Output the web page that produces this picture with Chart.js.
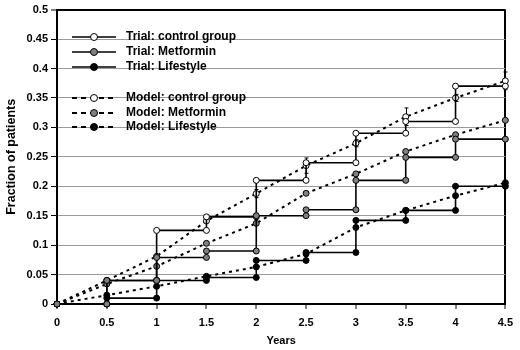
<!DOCTYPE html>
<html>
<head>
<meta charset="utf-8">
<script src="https://cdn.jsdelivr.net/npm/chart.js@4.4.1/dist/chart.umd.min.js"></script>
<style>
  html, body { margin: 0; padding: 0; background: #fff; }
  #wrap { width: 520px; height: 350px; }
</style>
</head>
<body>
<div id="wrap"><canvas id="chart" width="520" height="350"></canvas></div>
<script>
'use strict';

const years = [0, 0.5, 1, 1.5, 2, 2.5, 3, 3.5, 4, 4.5];

const trialControl   = [0, 0.04, 0.125, 0.148, 0.21, 0.24, 0.29, 0.31, 0.37, 0.37];
const trialMetformin = [0, 0.04, 0.079, 0.09, 0.15, 0.16, 0.21, 0.249, 0.28, 0.28];
const trialLifestyle = [0, 0.01, 0.04, 0.045, 0.074, 0.0875, 0.142, 0.159, 0.2, 0.2];

const modelControl   = [0, 0.04, 0.081, 0.141, 0.1875, 0.235, 0.273, 0.318, 0.35, 0.379];
const modelMetformin = [0, 0.034, 0.064, 0.103, 0.137, 0.188, 0.221, 0.259, 0.2875, 0.312];
const modelLifestyle = [0, 0.015, 0.03, 0.047, 0.063, 0.085, 0.13, 0.159, 0.184, 0.206];

// half-width of the whiskers on the control model points
const controlErr = [0, 0, 0, 0, 0.007, 0.013, 0.006, 0.015, 0.006, 0.015];

const seriesLabels = [
  'Trial: control group', 'Trial: Metformin', 'Trial: Lifestyle',
  'Model: control group', 'Model: Metformin', 'Model: Lifestyle'
];

const FONT = "'Liberation Sans', Arial, sans-serif";
const fills = ['#ffffff', '#808080', '#000000'];

function stepPoints(vals) {
  const pts = [{ x: years[0], y: vals[0] }];
  for (let i = 1; i < years.length; i++) {
    pts.push({ x: years[i], y: vals[i - 1] });
    if (vals[i] !== vals[i - 1]) pts.push({ x: years[i], y: vals[i] });
  }
  return pts;
}

function curvePoints(vals) {
  return years.map((x, i) => ({ x, y: vals[i] }));
}

function makeSet(label, data, fill, dashed, order) {
  return {
    label,
    data,
    order,
    borderColor: '#000',
    borderWidth: dashed ? 2 : 1.6,
    borderDash: dashed ? [3, 4] : [],
    pointRadius: 3,
    pointBorderWidth: 1,
    pointBorderColor: '#000',
    pointBackgroundColor: fill,
    tension: 0,
    clip: false,
    fill: false
  };
}

const datasets = [
  makeSet(seriesLabels[0], stepPoints(trialControl), fills[0], false, 3),
  makeSet(seriesLabels[1], stepPoints(trialMetformin), fills[1], false, 1),
  makeSet(seriesLabels[2], stepPoints(trialLifestyle), fills[2], false, 2),
  makeSet(seriesLabels[3], curvePoints(modelControl), fills[0], true, 6),
  makeSet(seriesLabels[4], curvePoints(modelMetformin), fills[1], true, 4),
  makeSet(seriesLabels[5], curvePoints(modelLifestyle), fills[2], true, 5)
];

const whiskers = {
  id: 'whiskers',
  beforeDatasetsDraw(chart) {
    const { ctx, scales: { x, y } } = chart;
    ctx.save();
    ctx.strokeStyle = '#000';
    ctx.lineWidth = 1;
    years.forEach((yr, i) => {
      const e = controlErr[i];
      if (!e) return;
      const px = Math.round(x.getPixelForValue(yr)) + 0.5;
      const top = y.getPixelForValue(modelControl[i] + e);
      const bot = y.getPixelForValue(modelControl[i] - e);
      ctx.beginPath();
      ctx.moveTo(px, top); ctx.lineTo(px, bot);
      ctx.moveTo(px - 2, top); ctx.lineTo(px + 2, top);
      ctx.moveTo(px - 2, bot); ctx.lineTo(px + 2, bot);
      ctx.stroke();
    });
    ctx.restore();
  }
};

// legend inside the plot: line sample with marker, gap between trial and model groups
const boxLegend = {
  id: 'boxLegend',
  afterDraw(chart) {
    const { ctx } = chart;
    const rows = [37, 52, 67, 98, 113, 127];
    const x0 = 72, x1 = 116, tx = 126;
    ctx.save();
    chart.data.datasets.forEach((ds, i) => {
      const yy = rows[i];
      ctx.strokeStyle = '#000';
      ctx.lineWidth = ds.borderWidth;
      ctx.setLineDash(ds.borderDash.length ? [5, 4] : []);
      ctx.beginPath();
      ctx.moveTo(x0, yy); ctx.lineTo(x1, yy);
      ctx.stroke();
      ctx.setLineDash([]);
      ctx.beginPath();
      ctx.arc((x0 + x1) / 2, yy, 3.5, 0, Math.PI * 2);
      ctx.fillStyle = ds.pointBackgroundColor;
      ctx.fill();
      ctx.lineWidth = 1;
      ctx.stroke();
      ctx.fillStyle = '#000';
      ctx.font = 'bold 12px ' + FONT;
      ctx.textBaseline = 'middle';
      ctx.fillText(ds.label, tx, yy);
    });
    ctx.restore();
  }
};

new Chart(document.getElementById('chart'), {
  type: 'line',
  data: { datasets },
  options: {
    responsive: false,
    animation: false,
    layout: { padding: { left: 0, top: 9, right: 13, bottom: 0 } },
    plugins: { legend: { display: false }, tooltip: { enabled: false } },
    scales: {
      x: {
        type: 'linear',
        min: 0,
        max: 4.5,
        afterFit: s => { s.height = 46; },
        ticks: {
          stepSize: 0.5,
          color: '#000',
          font: { family: FONT, size: 11, weight: 'bold' },
          padding: 7,
          maxRotation: 0,
          callback: v => String(+v.toFixed(1))
        },
        grid: {
          color: c => c.tick && c.tick.value === 4.5 ? '#000' : 'rgba(0,0,0,0)',
          lineWidth: 2,
          tickColor: '#000',
          tickLength: 5,
          tickWidth: 1
        },
        border: { color: '#000', width: 2 },
        title: {
          display: true,
          text: 'Years',
          color: '#000',
          font: { family: FONT, size: 11, weight: 'bold' },
          padding: { top: 0, bottom: 2 }
        }
      },
      y: {
        min: 0,
        max: 0.5,
        afterFit: s => { s.width = 57; },
        ticks: {
          stepSize: 0.05,
          color: '#000',
          font: { family: FONT, size: 11, weight: 'bold' },
          padding: 3,
          callback: v => String(+v.toFixed(2))
        },
        grid: {
          color: c => c.tick && c.tick.value >= 0.5 ? '#000' : '#9a9a9a',
          lineWidth: c => c.tick && c.tick.value >= 0.5 ? 2 : 1,
          tickColor: '#000',
          tickLength: 6,
          tickWidth: 1
        },
        border: { color: '#000', width: 2 },
        title: {
          display: true,
          text: 'Fraction of patients',
          color: '#000',
          font: { family: FONT, size: 12.5, weight: 'bold' },
          padding: { top: 4, bottom: 0 }
        }
      }
    }
  },
  plugins: [whiskers, boxLegend]
});
</script>
</body>
</html>
